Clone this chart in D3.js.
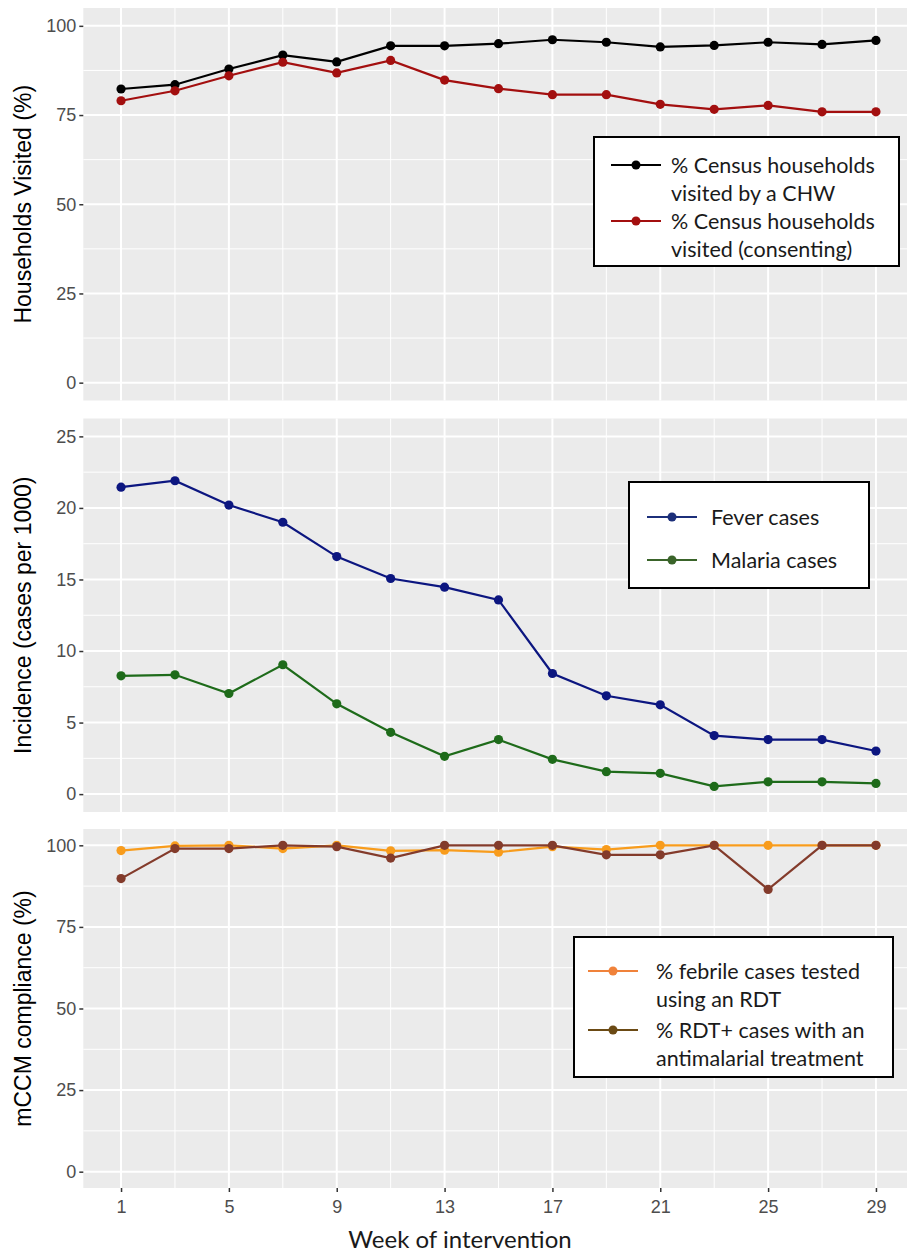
<!DOCTYPE html>
<html>
<head>
<meta charset="utf-8">
<script src="https://cdn.jsdelivr.net/npm/d3@7"></script>
<style>
  body { margin: 0; background: #fff; }
  .tick-label { font-family: "Liberation Sans", Arial, sans-serif; font-size: 18px; fill: #4d4d4d; }
  .axis-title { font-family: "Liberation Sans", Arial, sans-serif; font-size: 23px; fill: #000; }
  .legend-text { font-family: Lato, "Open Sans", sans-serif; font-size: 21.5px; fill: #1a1a1a; }
</style>
</head>
<body>
<div id="chart"></div>
<script>
// week of intervention
const weeks = [1, 3, 5, 7, 9, 11, 13, 15, 17, 19, 21, 23, 25, 27, 29];
const weekTicks = [1, 5, 9, 13, 17, 21, 25, 29];

// panel 1: households visited (%)
const visitedByChw = [82.3, 83.5, 87.9, 91.8, 89.9, 94.4, 94.4, 95.0, 96.1, 95.4, 94.1, 94.5, 95.4, 94.8, 95.9];
const visitedConsenting = [79.0, 81.8, 86.0, 89.8, 86.8, 90.3, 84.8, 82.4, 80.7, 80.7, 78.0, 76.6, 77.7, 75.9, 75.9];

// panel 2: incidence (cases per 1000)
const feverCases = [21.45, 21.9, 20.2, 19.0, 16.6, 15.07, 14.46, 13.57, 8.43, 6.87, 6.24, 4.09, 3.81, 3.81, 3.01];
const malariaCases = [8.27, 8.34, 7.03, 9.04, 6.31, 4.32, 2.64, 3.81, 2.43, 1.57, 1.45, 0.54, 0.86, 0.86, 0.75];

// panel 3: mCCM compliance (%)
const febrileTested = [98.4, 99.8, 100, 99.0, 100, 98.3, 98.5, 97.9, 99.6, 98.7, 100, 100, 100, 100, 100];
const rdtTreated = [89.8, 99.0, 99.0, 100, 99.6, 96.1, 100, 100, 100, 97.1, 97.1, 100, 86.5, 100, 100];

const pctTicks = [0, 25, 50, 75, 100];
const incTicks = [0, 5, 10, 15, 20, 25];

const width = 907, height = 1252;
const svg = d3.select("#chart").append("svg").attr("width", width).attr("height", height);
svg.append("rect").attr("width", width).attr("height", height).attr("fill", "#fff");

const plotLeft = 83.3, plotRight = 913.7;

const xScale = d3.scaleLinear().domain([-0.4, 30.4]).range([plotLeft, plotRight]);

const panels = [
  {
    top: 8, bottom: 400.5, domain: [-5, 105], ticks: pctTicks, minorStep: 12.5,
    title: "Households Visited (%)",
    series: [
      { values: visitedByChw, color: "#000000", key: "#000000", label: ["% Census households", "visited by a CHW"] },
      { values: visitedConsenting, color: "#a30f0f", key: "#a30f0f", label: ["% Census households", "visited (consenting)"] }
    ],
    legend: { x: 594, y: 137, w: 305, h: 129, keyX: 611, textX: 671, rows: [165, 193, 221, 249], keyRows: [0, 2] }
  },
  {
    top: 418.5, bottom: 812, domain: [-1.25, 26.25], ticks: incTicks, minorStep: 2.5,
    title: "Incidence (cases per 1000)",
    series: [
      { values: feverCases, color: "#0c1680", key: "#1c2f7a", label: ["Fever cases"] },
      { values: malariaCases, color: "#1e6b1a", key: "#3a642a", label: ["Malaria cases"] }
    ],
    legend: { x: 629, y: 482, w: 240, h: 106, keyX: 647, textX: 711, rows: [517, 560], keyRows: [0, 1] }
  },
  {
    top: 829, bottom: 1188, domain: [-5, 105], ticks: pctTicks, minorStep: 12.5,
    title: "mCCM compliance (%)",
    series: [
      { values: febrileTested, color: "#f89c1c", key: "#f0823a", label: ["% febrile cases tested", "using an RDT"] },
      { values: rdtTreated, color: "#833b2b", key: "#6b4a14", label: ["% RDT+ cases with an", "antimalarial treatment"] }
    ],
    legend: { x: 574, y: 937, w: 319, h: 140, keyX: 588, textX: 656, rows: [971, 999, 1030, 1058], keyRows: [0, 2] }
  }
];

const minorWeeks = d3.range(3, 29, 4);

const drawPanel = (p, showX) => {
  const yScale = d3.scaleLinear().domain(p.domain).range([p.bottom, p.top]);
  const g = svg.append("g");

  g.append("rect")
    .attr("x", plotLeft).attr("y", p.top)
    .attr("width", plotRight - plotLeft).attr("height", p.bottom - p.top)
    .attr("fill", "#ebebeb");

  // minor grid
  const minorY = d3.range(p.ticks[0] + p.minorStep, p.ticks[p.ticks.length - 1], p.minorStep * 2);
  g.selectAll(".minor-y").data(minorY).enter().append("line")
    .attr("x1", plotLeft).attr("x2", plotRight)
    .attr("y1", d => yScale(d)).attr("y2", d => yScale(d))
    .attr("stroke", "#fff").attr("stroke-width", 1);
  g.selectAll(".minor-x").data(minorWeeks).enter().append("line")
    .attr("x1", d => xScale(d)).attr("x2", d => xScale(d))
    .attr("y1", p.top).attr("y2", p.bottom)
    .attr("stroke", "#fff").attr("stroke-width", 1);

  // major grid
  g.selectAll(".major-y").data(p.ticks).enter().append("line")
    .attr("x1", plotLeft).attr("x2", plotRight)
    .attr("y1", d => yScale(d)).attr("y2", d => yScale(d))
    .attr("stroke", "#fff").attr("stroke-width", 2);
  g.selectAll(".major-x").data(weekTicks).enter().append("line")
    .attr("x1", d => xScale(d)).attr("x2", d => xScale(d))
    .attr("y1", p.top).attr("y2", p.bottom)
    .attr("stroke", "#fff").attr("stroke-width", 2);

  // y axis
  const yAxis = g.append("g")
    .attr("transform", `translate(${plotLeft},0)`)
    .call(d3.axisLeft(yScale).tickValues(p.ticks).tickSize(4).tickPadding(3));
  yAxis.select(".domain").remove();
  yAxis.selectAll(".tick line").attr("stroke", "#333").attr("stroke-width", 1.5);
  yAxis.selectAll(".tick text").attr("class", "tick-label").attr("font-family", null).attr("font-size", null);

  g.append("text")
    .attr("class", "axis-title")
    .attr("transform", `translate(31,${(p.top + p.bottom) / 2}) rotate(-90)`)
    .attr("text-anchor", "middle")
    .text(p.title);

  if (showX) {
    const xAxis = g.append("g")
      .attr("transform", `translate(0,${p.bottom})`)
      .call(d3.axisBottom(xScale).tickValues(weekTicks).tickSize(4).tickPadding(8));
    xAxis.select(".domain").remove();
    xAxis.selectAll(".tick line").attr("stroke", "#333").attr("stroke-width", 1.5);
    xAxis.selectAll(".tick text").attr("class", "tick-label").attr("font-family", null).attr("font-size", null);
  }

  // series
  const line = d3.line().x((d, i) => xScale(weeks[i])).y(d => yScale(d));
  p.series.forEach(s => {
    g.append("path").datum(s.values)
      .attr("d", line).attr("fill", "none")
      .attr("stroke", s.color).attr("stroke-width", 2.2);
    g.selectAll(null).data(s.values).enter().append("circle")
      .attr("cx", (d, i) => xScale(weeks[i])).attr("cy", d => yScale(d))
      .attr("r", 4.6).attr("fill", s.color);
  });

  // legend
  const L = p.legend;
  const lg = svg.append("g");
  lg.append("rect")
    .attr("x", L.x).attr("y", L.y).attr("width", L.w).attr("height", L.h)
    .attr("fill", "#fff").attr("stroke", "#000").attr("stroke-width", 2);
  let row = 0;
  p.series.forEach((s, si) => {
    const ky = L.rows[L.keyRows[si]];
    lg.append("line")
      .attr("x1", L.keyX).attr("x2", L.keyX + 50)
      .attr("y1", ky).attr("y2", ky)
      .attr("stroke", s.key).attr("stroke-width", 2);
    lg.append("circle").attr("cx", L.keyX + 25).attr("cy", ky).attr("r", 4.5).attr("fill", s.key);
    s.label.forEach(t => {
      lg.append("text").attr("class", "legend-text")
        .attr("x", L.textX).attr("y", L.rows[row]).attr("dy", "0.35em")
        .text(t);
      row++;
    });
  });
};

panels.forEach((p, i) => drawPanel(p, i === panels.length - 1));

svg.append("text")
  .attr("class", "legend-text")
  .attr("x", 460).attr("y", 1248)
  .attr("text-anchor", "middle")
  .style("font-size", "24px")
  .text("Week of intervention");
</script>
</body>
</html>
